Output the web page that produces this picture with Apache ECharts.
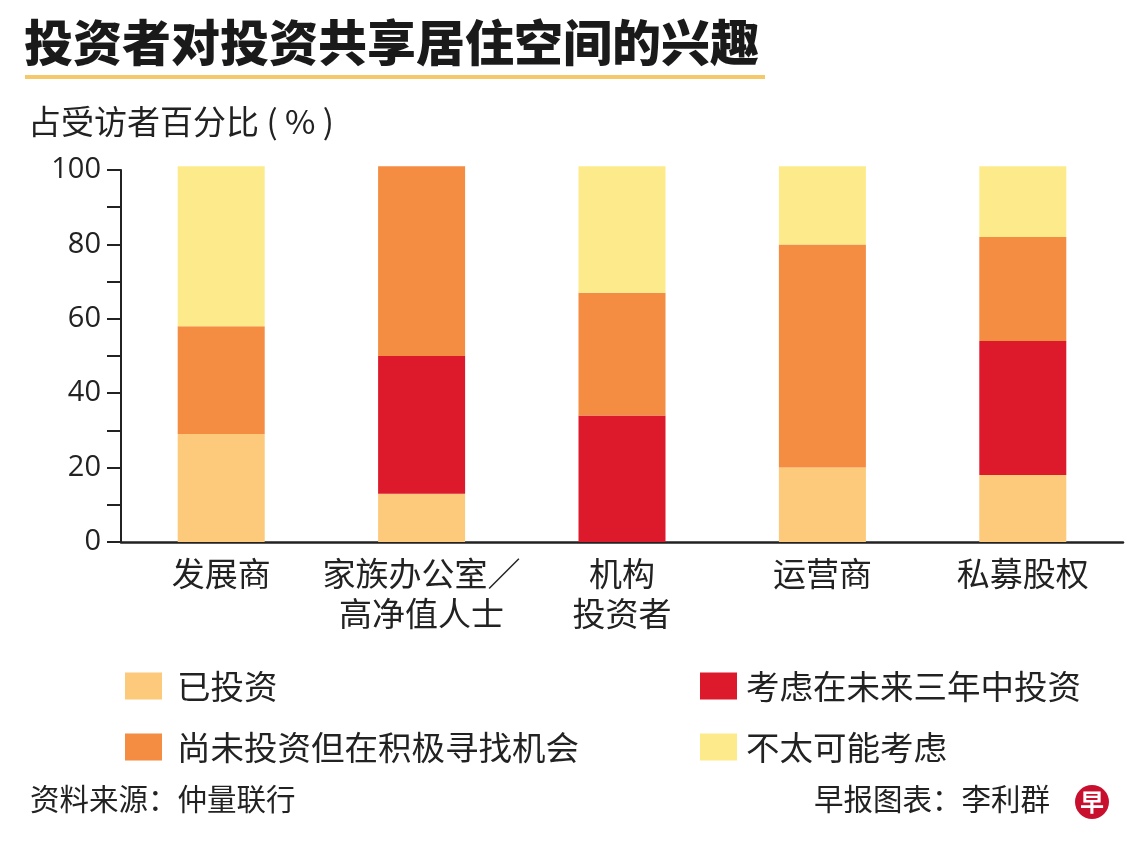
<!DOCTYPE html>
<html>
<head>
<meta charset="utf-8">
<script src="https://cdn.jsdelivr.net/npm/echarts@6/dist/echarts.min.js"></script>
<style>
html,body{margin:0;padding:0;background:#fff;}
#chart{width:1140px;height:851px;}
</style>
</head>
<body>
<div id="chart"></div>
<script>
const categories = ['发展商', '家族办公室／\n高净值人士', '机构\n投资者', '运营商', '私募股权'];
const seriesNames = ['已投资', '考虑在未来三年中投资', '尚未投资但在积极寻找机会', '不太可能考虑'];
const invested = [29, 13, 0, 20, 18];
const considering = [0, 37, 34, 0, 36];
const seeking = [29, 51, 33, 60, 28];
const unlikely = [43, 0, 34, 21, 19];
const yTicks = [0, 20, 40, 60, 80, 100];
const colors = ['#FDC97A', '#DC1A2B', '#F48C42', '#FDEB8B'];

const font = '"Noto Sans CJK SC", "Noto Sans", sans-serif';
const chart = echarts.init(document.getElementById('chart'));

const dataSets = [invested, considering, seeking, unlikely];
const series = seriesNames.map((name, i) => ({
  name: name,
  type: 'bar',
  stack: 'total',
  barWidth: 87,
  clip: false,
  itemStyle: { color: colors[i] },
  emphasis: { disabled: true },
  data: dataSets[i]
}));

function legendAt(name, left, top, gap) {
  return {
    data: [name],
    left: left,
    top: top,
    padding: 0,
    icon: 'rect',
    itemWidth: 37,
    itemHeight: 27,
    selectedMode: false,
    textStyle: { fontSize: 33.5, color: '#222', fontFamily: font, padding: [0, 0, 0, gap], lineHeight: 34 }
  };
}

chart.setOption({
  animation: false,
  backgroundColor: '#fff',
  grid: { left: 121, right: 17, top: 170, bottom: 309, containLabel: false },
  legend: [
    legendAt(seriesNames[0], 125, 669, 10),
    legendAt(seriesNames[1], 700, 669, 4),
    legendAt(seriesNames[2], 125, 730, 10),
    legendAt(seriesNames[3], 700, 730, 4)
  ],
  xAxis: {
    type: 'category',
    data: categories,
    axisLine: { lineStyle: { color: '#222', width: 2.5 } },
    axisTick: { show: false },
    axisLabel: { fontSize: 33, color: '#222', fontFamily: font, lineHeight: 40, margin: 11, interval: 0 }
  },
  yAxis: {
    type: 'value',
    min: 0,
    max: 100,
    interval: 10,
    splitLine: { show: false },
    axisLine: { show: true, lineStyle: { color: '#222', width: 2 } },
    axisTick: { show: true, length: 14, lineStyle: { color: '#222', width: 2 } },
    axisLabel: {
      fontSize: 29, color: '#222', fontFamily: '"Open Sans", "Noto Sans", sans-serif', margin: 20,
      formatter: v => (yTicks.indexOf(v) >= 0 ? String(v) : '')
    }
  },
  series: series,
  graphic: [
    { type: 'text', left: 24, top: 18, style: { text: '投资者对投资共享居住空间的兴趣', fontSize: 49, fontWeight: 900, fill: '#1a1a1a', fontFamily: font } },
    { type: 'rect', shape: { x: 25, y: 75, width: 740, height: 4 }, style: { fill: '#F5C96A' } },
    { type: 'text', left: 28, top: 105, style: { text: '占受访者百分比 ( % )', fontSize: 33, fill: '#222', fontFamily: font } },
    { type: 'text', left: 30, top: 784, style: { text: '资料来源：仲量联行', fontSize: 29.5, fill: '#222', fontFamily: font } },
    { type: 'text', left: 814, top: 784, style: { text: '早报图表：李利群', fontSize: 29.5, fill: '#222', fontFamily: font } },
    { type: 'circle', shape: { cx: 1092, cy: 802, r: 17 }, style: { fill: '#C8102E' } },
    { type: 'text', x: 1092, y: 802, style: { text: '早', fontSize: 24, fontWeight: 'bold', fill: '#fff', fontFamily: font, align: 'center', verticalAlign: 'middle' } }
  ]
});
</script>
</body>
</html>
